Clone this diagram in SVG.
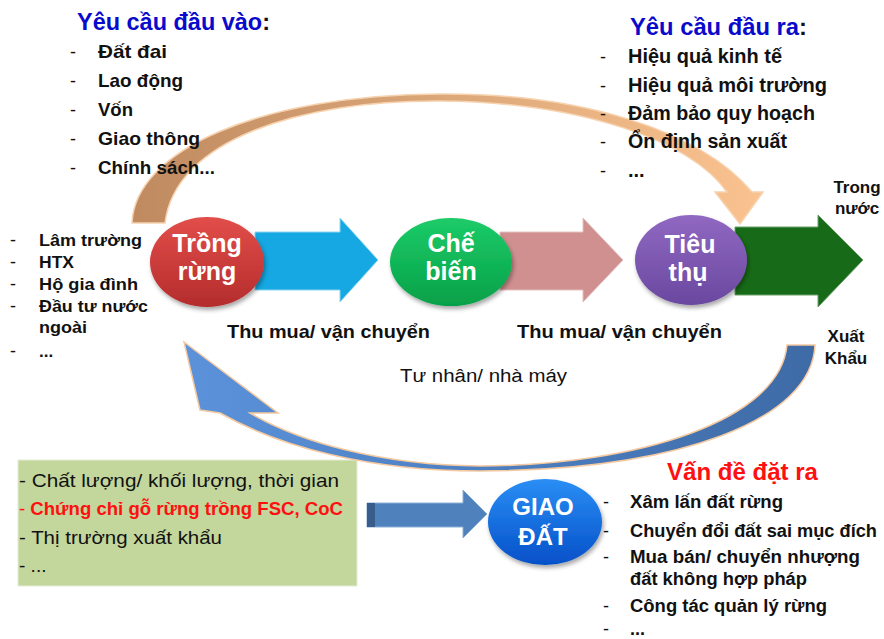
<svg xmlns="http://www.w3.org/2000/svg" width="884" height="639" viewBox="0 0 884 639">
<defs>
  <linearGradient id="gOrange" x1="0" y1="0" x2="1" y2="0">
    <stop offset="0" stop-color="#c08a60"/>
    <stop offset="0.45" stop-color="#d9a577"/>
    <stop offset="1" stop-color="#fac28f"/>
  </linearGradient>
  <linearGradient id="gBlueArc" x1="0" y1="0" x2="1" y2="0">
    <stop offset="0" stop-color="#5b92da"/>
    <stop offset="1" stop-color="#3e6ba6"/>
  </linearGradient>
  <linearGradient id="gRed" x1="0" y1="0" x2="0" y2="1">
    <stop offset="0" stop-color="#e24e4a"/>
    <stop offset="1" stop-color="#b42c2c"/>
  </linearGradient>
  <linearGradient id="gGreen" x1="0" y1="0" x2="0" y2="1">
    <stop offset="0" stop-color="#1ccc68"/>
    <stop offset="1" stop-color="#06a048"/>
  </linearGradient>
  <linearGradient id="gPurple" x1="0" y1="0" x2="0" y2="1">
    <stop offset="0" stop-color="#9068c2"/>
    <stop offset="1" stop-color="#6a48a0"/>
  </linearGradient>
  <linearGradient id="gBlue" x1="0" y1="0" x2="0" y2="1">
    <stop offset="0" stop-color="#2a8ef5"/>
    <stop offset="1" stop-color="#0550c8"/>
  </linearGradient>
  <filter id="shadow" x="-20%" y="-20%" width="140%" height="150%">
    <feDropShadow dx="1.5" dy="3" stdDeviation="2" flood-color="#000" flood-opacity="0.35"/>
  </filter>
</defs>
<style>
  text { font-family: "Liberation Sans", Arial, sans-serif; }
  .b { font-weight: bold; fill: #111; }
  .dash { font-size: 18px; fill: #111; }
  .h { font-weight: bold; fill: #0a0acc; font-size: 23px; }
  .node { font-weight: bold; fill: #fff; text-anchor: middle; }
  .reg { fill: #111; }
</style>

<rect width="884" height="639" fill="#fff"/>

<g id="requirements-box">
  <rect x="18" y="460" width="339" height="126" fill="#c3d69b" stroke="#e6edd6" stroke-width="1"/>
  <text class="reg" x="19" y="487" font-size="19" textLength="320" lengthAdjust="spacingAndGlyphs">- Chất lượng/ khối lượng, thời gian</text>
  <text x="19" y="515" font-size="19" fill="#ff1010" textLength="324" lengthAdjust="spacingAndGlyphs">- <tspan font-weight="bold">Chứng chỉ gỗ rừng trồng FSC, CoC</tspan></text>
  <text class="reg" x="19" y="544" font-size="19" textLength="203" lengthAdjust="spacingAndGlyphs">- Thị trường xuất khẩu</text>
  <text class="reg" x="19" y="572" font-size="19">- ...</text>
</g>

<g id="connectors">
  <!-- cyan arrow -->
  <path d="M255,232 L340,232 L340,218 L378,260 L340,302 L340,290 L255,290 Z" fill="#15a8e2" stroke="#8fd3f0" stroke-width="1"/>
  <!-- pink arrow -->
  <path d="M500,232 L583,232 L583,218 L623,260 L583,302 L583,290 L500,290 Z" fill="#d09090" stroke="#e6c0c0" stroke-width="1"/>
  <!-- dark green arrow -->
  <path d="M735,227 L818,227 L818,215 L863,260 L818,307 L818,295 L735,295 Z" fill="#176a17" stroke="#6aa06a" stroke-width="1"/>
  <!-- orange curved arrow -->
  <path d="M132,223 C135,150 260,95 440,94 C580,93 700,130 752,192 L763,192 L740,224 L715,192 L727,192 C690,140 580,102 440,101 C300,100 175,140 165,223 Z" fill="url(#gOrange)" stroke="#f6d2ae" stroke-width="1.5"/>
  <!-- blue curved arrow -->
  <path d="M815,345 C812,420 680,470 480,471 C370,471 280,447 220,413 L200,410 L184,342 L278,413 L250,413 C300,442 380,465 480,466 C640,465 780,420 787,345 Z" fill="url(#gBlueArc)" stroke="#f5c9a0" stroke-width="1.5"/>
  <!-- flat blue arrow to GIAO DAT -->
  <path d="M367,503 L463,503 L463,490 L487,514 L463,538 L463,527 L367,527 Z" fill="#4f81bd" stroke="#8fb0d8" stroke-width="1"/>
  <rect x="367" y="503" width="8" height="24" fill="#385d8a"/>
</g>

<g id="node-trong-rung">
  <ellipse cx="207" cy="262" rx="57" ry="45" fill="url(#gRed)" filter="url(#shadow)"/>
  <text class="node" x="207" y="252" font-size="25">Trồng</text>
  <text class="node" x="207" y="280" font-size="25">rừng</text>
</g>

<g id="node-che-bien">
  <ellipse cx="451" cy="262" rx="61" ry="44" fill="url(#gGreen)" filter="url(#shadow)"/>
  <text class="node" x="451" y="252" font-size="25">Chế</text>
  <text class="node" x="451" y="280" font-size="25">biến</text>
</g>

<g id="node-tieu-thu">
  <ellipse cx="691" cy="260" rx="56" ry="45" fill="url(#gPurple)" filter="url(#shadow)"/>
  <text class="node" x="690" y="253" font-size="25">Tiêu</text>
  <text class="node" x="688" y="281" font-size="25">thụ</text>
</g>

<g id="node-giao-dat">
  <ellipse cx="545" cy="522" rx="57" ry="43" fill="url(#gBlue)" filter="url(#shadow)"/>
  <text class="node" x="543" y="515" font-size="24">GIAO</text>
  <text class="node" x="543" y="545" font-size="24">ĐẤT</text>
</g>

<g id="input-requirements">
  <text class="h" x="77" y="30" textLength="193" lengthAdjust="spacingAndGlyphs">Yêu cầu đầu vào<tspan fill="#111">:</tspan></text>
  <text class="dash" x="70" y="58">-</text>
  <text class="dash" x="70" y="87">-</text>
  <text class="dash" x="70" y="116">-</text>
  <text class="dash" x="70" y="145">-</text>
  <text class="dash" x="70" y="174">-</text>
  <text class="b" x="98" y="58" font-size="19" textLength="69" lengthAdjust="spacingAndGlyphs">Đất đai</text>
  <text class="b" x="98" y="87" font-size="19" textLength="85" lengthAdjust="spacingAndGlyphs">Lao động</text>
  <text class="b" x="98" y="116" font-size="19" textLength="35" lengthAdjust="spacingAndGlyphs">Vốn</text>
  <text class="b" x="98" y="145" font-size="19" textLength="102" lengthAdjust="spacingAndGlyphs">Giao thông</text>
  <text class="b" x="98" y="174" font-size="19" textLength="117" lengthAdjust="spacingAndGlyphs">Chính sách...</text>
</g>

<g id="output-requirements">
  <text class="h" x="630" y="35" textLength="177" lengthAdjust="spacingAndGlyphs">Yêu cầu đầu ra<tspan fill="#111">:</tspan></text>
  <text class="dash" x="600" y="63">-</text>
  <text class="dash" x="600" y="92">-</text>
  <text class="dash" x="600" y="120">-</text>
  <text class="dash" x="600" y="148">-</text>
  <text class="dash" x="600" y="177">-</text>
  <text class="b" x="628" y="63" font-size="20" textLength="154" lengthAdjust="spacingAndGlyphs">Hiệu quả kinh tế</text>
  <text class="b" x="628" y="92" font-size="20" textLength="199" lengthAdjust="spacingAndGlyphs">Hiệu quả môi trường</text>
  <text class="b" x="628" y="120" font-size="20" textLength="187" lengthAdjust="spacingAndGlyphs">Đảm bảo quy hoạch</text>
  <text class="b" x="628" y="148" font-size="20" textLength="159" lengthAdjust="spacingAndGlyphs">Ổn định sản xuất</text>
  <text class="b" x="628" y="177" font-size="20">...</text>
</g>

<g id="actors">
  <text class="dash" x="10" y="246">-</text>
  <text class="dash" x="10" y="268">-</text>
  <text class="dash" x="10" y="290">-</text>
  <text class="dash" x="10" y="312">-</text>
  <text class="dash" x="10" y="357">-</text>
  <text class="b" x="39" y="246" font-size="17" textLength="103" lengthAdjust="spacingAndGlyphs">Lâm trường</text>
  <text class="b" x="39" y="268" font-size="17" textLength="35" lengthAdjust="spacingAndGlyphs">HTX</text>
  <text class="b" x="39" y="290" font-size="17" textLength="99" lengthAdjust="spacingAndGlyphs">Hộ gia đình</text>
  <text class="b" x="39" y="312" font-size="17" textLength="109" lengthAdjust="spacingAndGlyphs">Đầu tư nước</text>
  <text class="b" x="39" y="333" font-size="17" textLength="48" lengthAdjust="spacingAndGlyphs">ngoài</text>
  <text class="b" x="39" y="357" font-size="17">...</text>
</g>

<g id="labels">
  <text class="b" x="227" y="338" font-size="19" textLength="203" lengthAdjust="spacingAndGlyphs">Thu mua/ vận chuyển</text>
  <text class="b" x="517" y="338" font-size="19" textLength="205" lengthAdjust="spacingAndGlyphs">Thu mua/ vận chuyển</text>
  <text class="reg" x="400" y="382" font-size="18" textLength="167" lengthAdjust="spacingAndGlyphs">Tư nhân/ nhà máy</text>
  <text class="b" x="857" y="193" font-size="17" text-anchor="middle">Trong</text>
  <text class="b" x="857" y="214" font-size="17" text-anchor="middle">nước</text>
  <text class="b" x="846" y="342" font-size="17" text-anchor="middle">Xuất</text>
  <text class="b" x="846" y="364" font-size="17" text-anchor="middle">Khẩu</text>
</g>

<g id="issues">
  <text x="667" y="480" font-size="23" font-weight="bold" fill="#ff1010" textLength="151" lengthAdjust="spacingAndGlyphs">Vấn đề đặt ra</text>
  <text class="dash" x="603" y="508">-</text>
  <text class="dash" x="603" y="537">-</text>
  <text class="dash" x="603" y="563">-</text>
  <text class="dash" x="603" y="612">-</text>
  <text class="dash" x="603" y="635">-</text>
  <text class="b" x="630" y="508" font-size="18" textLength="153" lengthAdjust="spacingAndGlyphs">Xâm lấn đất rừng</text>
  <text class="b" x="630" y="537" font-size="18" textLength="247" lengthAdjust="spacingAndGlyphs">Chuyển đổi đất sai mục đích</text>
  <text class="b" x="630" y="563" font-size="18" textLength="230" lengthAdjust="spacingAndGlyphs">Mua bán/ chuyển nhượng</text>
  <text class="b" x="630" y="585" font-size="18" textLength="177" lengthAdjust="spacingAndGlyphs">đất không hợp pháp</text>
  <text class="b" x="630" y="612" font-size="18" textLength="197" lengthAdjust="spacingAndGlyphs">Công tác quản lý rừng</text>
  <text class="b" x="630" y="635" font-size="18">...</text>
</g>
</svg>
